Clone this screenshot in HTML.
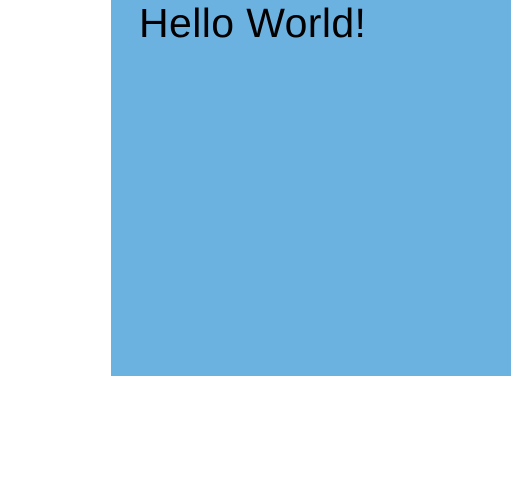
<!DOCTYPE html>
<html>
<head>
<meta charset="utf-8">
<style>
  html, body { margin: 0; padding: 0; width: 511px; height: 487px; background: #ffffff; overflow: hidden; }
  #panel { position: absolute; left: 111px; top: 0; width: 400px; height: 376px; background: #6cb2e1; }
  #title { position: absolute; left: 28px; top: -1px; font-family: "Liberation Sans", sans-serif; font-size: 41px; color: #000; letter-spacing: 0.4px; line-height: 48px; white-space: nowrap; }
</style>
</head>
<body>
  <div id="panel">
    <div id="title">Hello World!</div>
  </div>
</body>
</html>
